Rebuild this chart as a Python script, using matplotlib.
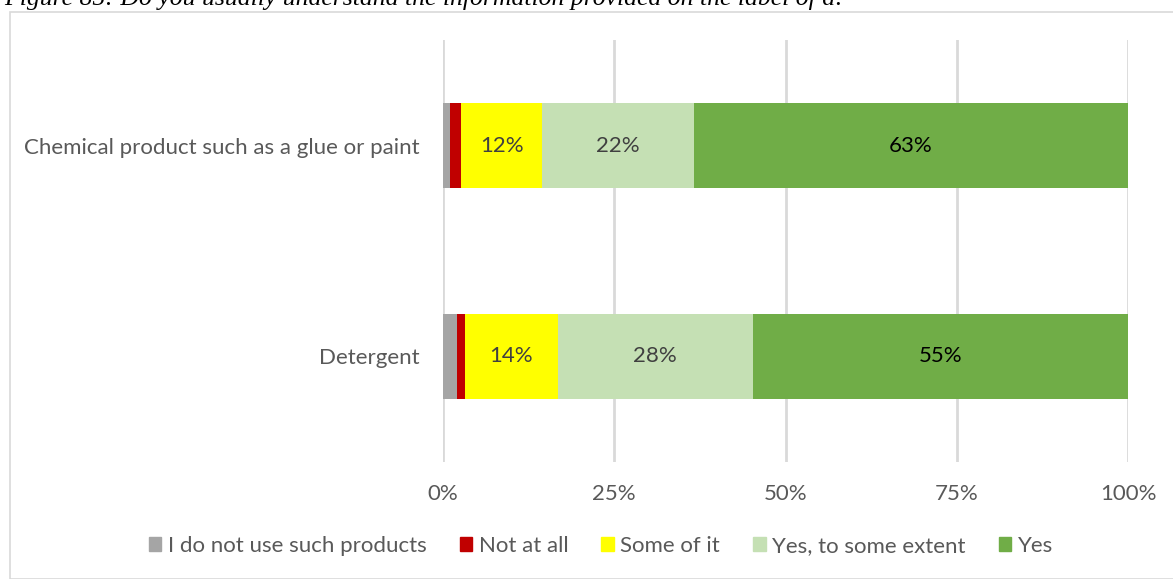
import matplotlib.pyplot as plt
from matplotlib.patches import Rectangle

categories = ["Detergent", "Chemical product such as a glue or paint"]
series_names = ["I do not use such products", "Not at all", "Some of it",
                "Yes, to some extent", "Yes"]
values = {
    "I do not use such products": [2.1, 1.0],
    "Not at all": [1.1, 1.6],
    "Some of it": [13.6, 11.9],
    "Yes, to some extent": [28.4, 22.1],
    "Yes": [54.8, 63.4],
}
colors = ["#a5a5a5", "#c00000", "#ffff00", "#c5e0b4", "#70ad47"]
label_colors = [None, None, "#404040", "#404040", "#000000"]
xticks = [0, 25, 50, 75, 100]
xticklabels = ["0%", "25%", "50%", "75%", "100%"]

W, H = 1173, 579
fig = plt.figure(figsize=(W / 100, H / 100), dpi=100)
font = "Lato"

# chart frame
fig.patches.append(Rectangle((10 / W, 0), 1.1, 1 - 12 / H, transform=fig.transFigure,
                             fill=False, edgecolor="#d9d9d9", linewidth=1.2))
# clipped caption at the very top
fig.text(4 / W, 1 - 5 / H, "Figure 85: Do you usually understand the information provided on the label of a:",
         family="Liberation Serif", style="italic", fontsize=18.5, color="black", va="baseline")

ax = fig.add_axes([443 / W, 1 - 462 / H, (1128 - 443) / W, (462 - 40) / H])

ypos = list(range(len(categories)))
left = [0.0] * len(categories)
for name, col, lcol in zip(series_names, colors, label_colors):
    vals = values[name]
    bars = ax.barh(ypos, vals, left=left, height=0.4, color=col, zorder=3)
    if lcol:
        for b, v in zip(bars, vals):
            ax.text(b.get_x() + b.get_width() / 2, b.get_y() + b.get_height() / 2,
                    f"{v:.0f}%", ha="center", va="center", color=lcol,
                    fontsize=16, family=font, zorder=4)
    left = [l + v for l, v in zip(left, vals)]

ax.set_xlim(0, 100)
ax.set_ylim(-0.5, 1.5)
ax.set_xticks(xticks)
ax.set_xticklabels(xticklabels)
ax.set_yticks(ypos)
ax.set_yticklabels(categories)
ax.tick_params(length=0, labelsize=16, labelcolor="#595959")
ax.tick_params(axis="x", pad=15.5)
ax.tick_params(axis="y", pad=16.5)
for t in ax.get_xticklabels() + ax.get_yticklabels():
    t.set_family(font)
ax.grid(axis="x", color="#d9d9d9", linewidth=2, zorder=0)
for s in ax.spines.values():
    s.set_visible(False)

handles = [Rectangle((0, 0), 1, 1, color=c) for c in colors]
leg = fig.legend(handles, series_names, loc="center", bbox_to_anchor=(601 / W, 1 - 546 / H),
                 ncol=5, frameon=False, handlelength=0.55, handleheight=0.55,
                 handletextpad=0.3, columnspacing=1.5, prop={"family": font, "size": 16})
for t in leg.get_texts():
    t.set_color("#595959")

fig.savefig("out.png", dpi=100)
